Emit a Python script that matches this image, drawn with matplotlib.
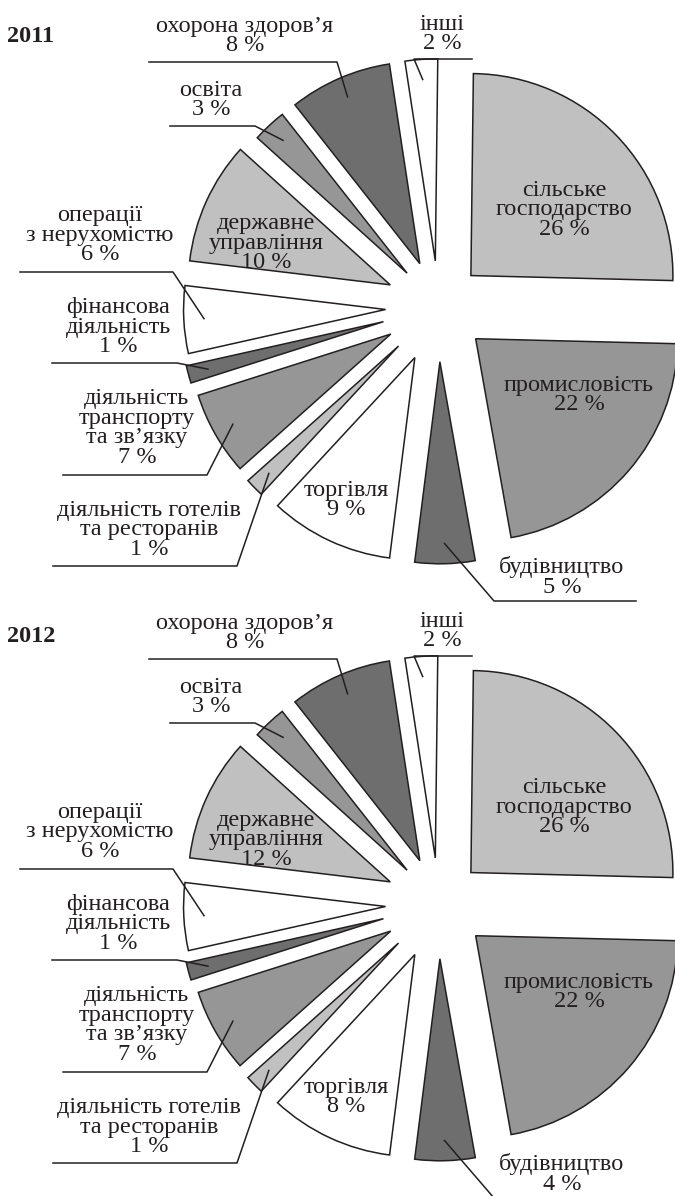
import matplotlib.pyplot as plt
import numpy as np

# частки секторів, як їх намальовано на рисунку (обидва роки однакові)
wedge_shares = [25.2, 21.8, 4.8, 9.9, 1.5, 6.7, 1.4, 5.4, 9.8, 2.7, 8.2, 2.6]

sectors = ["сільське\nгосподарство", "промисловість", "будівництво", "торгівля",
           "діяльність готелів\nта ресторанів", "діяльність\nтранспорту\nта зв’язку",
           "фінансова\nдіяльність", "операції\nз нерухомістю", "державне\nуправління",
           "освіта", "охорона здоров’я", "інші"]
pct_2011 = [26, 22, 5, 9, 1, 7, 1, 6, 10, 3, 8, 2]
pct_2012 = [26, 22, 4, 8, 1, 7, 1, 6, 12, 3, 8, 2]
years = ["2011", "2012"]

# оформлення
W, H = 675, 1196
LIGHT, MID, DARK, WHITE = "#c0c0c0", "#969696", "#6e6e6e", "#ffffff"
colors = [LIGHT, MID, DARK, WHITE] * 3
explode = [45, 49, 55, 56, 56, 55, 57, 53, 53, 46, 47, 46]   # у пікселях
R = 202
INK = "#231f20"
FONT = "Liberation Serif"
FS = 17.5

# позиції підписів (пікселі від верхнього лівого кута, для 2011)
text_pos = [(564, 210), (579, 395), (562, 577), (346, 500), (149, 530), (137, 428),
            (118, 327), (100, 235), (266, 243), (211, 100), (245, 36), (442, 34)]
# виноски: індекс сектора -> (x згину, x кінця, y лінії)
leaders = {2: (494, 636, 601), 4: (237, 53, 566), 5: (207, 63, 475), 6: (177, 52, 363),
           7: (173, 20, 272), 9: (255, 170, 126), 10: (337, 149, 62), 11: (414, 472, 59)}
offsets = [0, 597]


def py(y):
    return H - y


fig = plt.figure(figsize=(W / 100, H / 100), dpi=100)
ax = fig.add_axes([0, 0, 1, 1])

for k, (year, pct) in enumerate(zip(years, [pct_2011, pct_2012])):
    dy = offsets[k]
    center = (438.5, py(306.8 + dy))
    wedges, _ = ax.pie(wedge_shares, explode=explode, colors=colors, startangle=89.3,
                       counterclock=False, radius=R, center=center,
                       wedgeprops=dict(edgecolor=INK, linewidth=1.1, joinstyle="miter"))

    for i, w in enumerate(wedges):
        tx, ty = text_pos[i]
        ax.text(tx, py(ty + dy), f"{sectors[i]}\n{pct[i]} %", ha="center", va="center",
                fontsize=FS, family=FONT, color=INK, linespacing=0.9)
        if i in leaders:
            ex, fx, ly = leaders[i]
            mid = np.radians((w.theta1 + w.theta2) / 2)
            cx, cy = w.center
            px_, py_ = cx + 0.9 * w.r * np.cos(mid), cy + 0.9 * w.r * np.sin(mid)
            ax.plot([fx, ex, px_], [py(ly + dy), py(ly + dy), py_], color=INK, lw=1.1)

    ax.text(7, py(37 + dy + 3 * k), year, ha="left", va="center", fontsize=17.5,
            family=FONT, fontweight="bold", color=INK)

ax.set_xlim(0, W)
ax.set_ylim(0, H)
ax.set_aspect("equal")
ax.axis("off")
fig.savefig("out.png", dpi=100)
